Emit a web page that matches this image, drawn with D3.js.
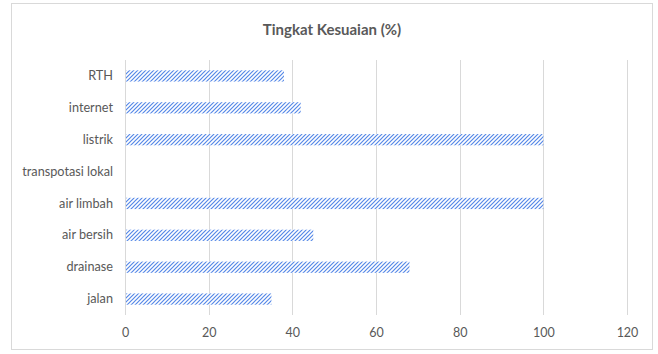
<!DOCTYPE html>
<html>
<head>
<meta charset="utf-8">
<script src="https://cdn.jsdelivr.net/npm/d3@7"></script>
<style>
  html, body { margin: 0; padding: 0; background: #fff; }
  svg { display: block; font-family: Lato, "Open Sans", sans-serif; }
</style>
</head>
<body>
<svg id="chart" width="658" height="354"></svg>
<script>
// Kategori infrastruktur dan tingkat kesesuaiannya (%)
const categories = ["jalan", "drainase", "air bersih", "air limbah", "transpotasi lokal", "listrik", "internet", "RTH"];
const values = [35, 68, 45, 100, 0, 100, 42, 38];
const xTicks = [0, 20, 40, 60, 80, 100, 120];
const chartTitle = "Tingkat Kesuaian (%)";

const svg = d3.select("#chart");
const plot = { left: 125, right: 627, top: 60, bottom: 315 };

// Bingkai luar area grafik
svg.append("rect")
  .attr("x", 11.5).attr("y", 3.5)
  .attr("width", 641).attr("height", 346)
  .attr("fill", "#fff")
  .attr("stroke", "#d9d9d9").attr("stroke-width", 1);

// Pola arsir diagonal untuk batang
const defs = svg.append("defs");
const pat = defs.append("pattern")
  .attr("id", "hatch")
  .attr("patternUnits", "userSpaceOnUse")
  .attr("width", 4).attr("height", 4);
pat.append("rect").attr("width", 4).attr("height", 4).attr("fill", "#ffffff");
pat.append("path")
  .attr("d", "M-1,1 l2,-2 M0,4 l4,-4 M3,5 l2,-2")
  .attr("fill", "none")
  .attr("stroke", "#5588e8")
  .attr("stroke-width", 1.2);

const x = d3.scaleLinear().domain([0, 120]).range([plot.left, plot.right]);
const y = d3.scaleBand()
  .domain(categories.slice().reverse())
  .range([plot.top, plot.bottom])
  .paddingInner(0.646)
  .paddingOuter(0.323);

// Garis kisi vertikal
svg.append("g")
  .selectAll("line")
  .data(xTicks)
  .join("line")
  .attr("x1", d => Math.round(x(d)) + 0.5)
  .attr("x2", d => Math.round(x(d)) + 0.5)
  .attr("y1", plot.top)
  .attr("y2", plot.bottom)
  .attr("stroke", "#d9d9d9")
  .attr("stroke-width", 1);

// Batang
svg.append("g")
  .selectAll("rect")
  .data(categories.map((c, i) => ({ c, v: values[i] })))
  .join("rect")
  .attr("x", x(0) + 1)
  .attr("y", d => y(d.c))
  .attr("width", d => Math.max(0, x(d.v) - x(0) - 1))
  .attr("height", y.bandwidth())
  .attr("fill", "url(#hatch)");

// Sumbu X
const xAxis = d3.axisBottom(x).tickValues(xTicks).tickSize(0).tickPadding(0);
const gx = svg.append("g")
  .attr("transform", `translate(0, ${plot.bottom + 13})`)
  .call(xAxis);
gx.select(".domain").remove();
gx.selectAll("text")
  .attr("dy", "0.71em")
  .attr("fill", "#595959")
  .attr("font-size", 12.5)
  .attr("font-family", "Lato, 'Open Sans', sans-serif");

// Sumbu Y
const yAxis = d3.axisLeft(y).tickSize(0).tickPadding(12);
const gy = svg.append("g")
  .attr("transform", `translate(${plot.left}, 0)`)
  .call(yAxis);
gy.select(".domain").remove();
gy.selectAll("text")
  .attr("fill", "#595959")
  .attr("font-size", 12.7)
  .attr("font-family", "Lato, 'Open Sans', sans-serif");

// Judul
svg.append("text")
  .attr("x", 332)
  .attr("y", 35)
  .attr("text-anchor", "middle")
  .attr("fill", "#595959")
  .attr("font-size", 15)
  .attr("font-weight", "bold")
  .text(chartTitle);
</script>
</body>
</html>
